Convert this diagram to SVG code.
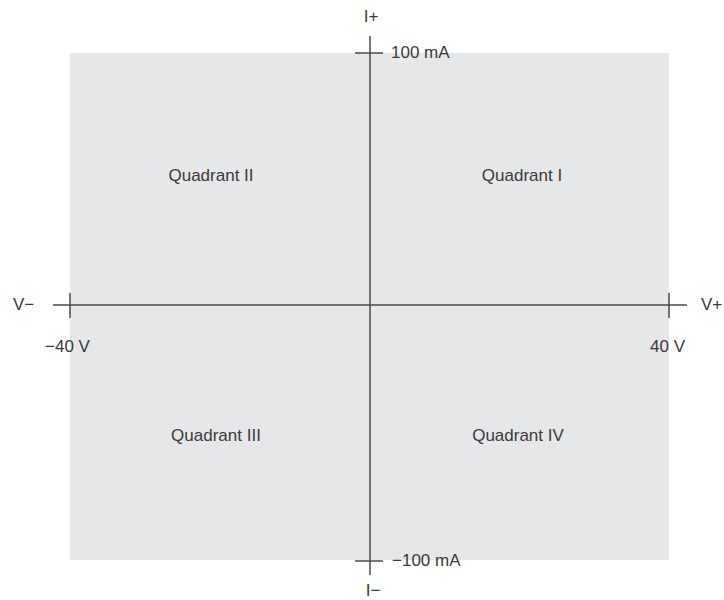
<svg xmlns="http://www.w3.org/2000/svg" width="724" height="600" viewBox="0 0 724 600">
<style>
text{font-family:"Liberation Sans",Arial,sans-serif;font-size:17px;fill:#3a3a3a}
.q{font-size:17px}
.ax{stroke:#4a4a4a;stroke-width:1.5;fill:none}
</style>
<rect width="724" height="600" fill="#ffffff"/>
<g id="plane"><rect x="70" y="53" width="599" height="507" fill="#e6e7e8"/></g>
<g id="axes">
<line class="ax" x1="370" y1="36" x2="370" y2="575"/>
<line class="ax" x1="53" y1="305" x2="687" y2="305"/>
<line class="ax" x1="70" y1="293" x2="70" y2="318"/>
<line class="ax" x1="669" y1="293" x2="669" y2="318"/>
<line class="ax" x1="355" y1="53" x2="383" y2="53"/>
<line class="ax" x1="355" y1="561" x2="383" y2="561"/>
</g>
<g id="labels">
<text x="371" y="22" text-anchor="middle">I+</text>
<text x="391" y="58">100 mA</text>
<text x="392" y="566">−100 mA</text>
<text x="373" y="596" text-anchor="middle">I−</text>
<text x="13" y="310">V−</text>
<text x="701" y="310">V+</text>
<text x="45" y="352">−40 V</text>
<text x="650" y="352">40 V</text>
</g>
<g id="q1"><text class="q" x="522" y="181" text-anchor="middle">Quadrant I</text></g>
<g id="q2"><text class="q" x="211" y="181" text-anchor="middle">Quadrant II</text></g>
<g id="q3"><text class="q" x="216" y="441" text-anchor="middle">Quadrant III</text></g>
<g id="q4"><text class="q" x="518" y="441" text-anchor="middle">Quadrant IV</text></g>
</svg>
